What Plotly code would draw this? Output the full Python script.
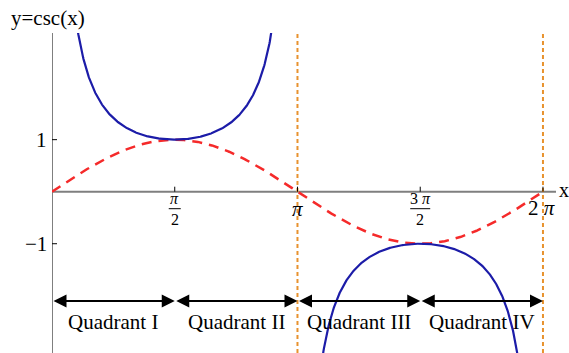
import numpy as np
import plotly.graph_objects as go

# Reference points and labels
tick_vals = [np.pi / 2, np.pi, 3 * np.pi / 2, 2 * np.pi]
y_tick_vals = [1, -1]
y_tick_text = ["1", "\u22121"]
quadrant_names = ["Quadrant I", "Quadrant II", "Quadrant III", "Quadrant IV"]
quadrant_bounds = [0, np.pi / 2, np.pi, 3 * np.pi / 2, 2 * np.pi]
asymptotes = [np.pi, 2 * np.pi]

X_MAX = 6.45
Y_MIN, Y_MAX = -3.1, 3.05
ARROW_Y = -2.1
LABEL_Y = -2.5

SERIF = "Liberation Serif"
BLUE = "#1c1ca8"
RED = "#f52a2a"
ORANGE = "#e8922e"
GRAY = "#7f7f7f"

fig = go.Figure()

# sine reference curve
xs = np.linspace(0, 2 * np.pi, 600)
fig.add_trace(go.Scatter(x=xs, y=np.sin(xs), mode="lines",
                         line=dict(color=RED, width=2.5, dash="10px,7px"),
                         hoverinfo="skip"))

# cosecant branches
for a, b in [(0, np.pi), (np.pi, 2 * np.pi)]:
    xb = np.linspace(a + 0.2, b - 0.2, 500)
    fig.add_trace(go.Scatter(x=xb, y=1 / np.sin(xb), mode="lines",
                             line=dict(color=BLUE, width=2.2),
                             hoverinfo="skip"))

shapes = []
# axes
shapes.append(dict(type="line", x0=0, x1=0, y0=Y_MIN, y1=Y_MAX,
                   xref="x", yref="y", line=dict(color=GRAY, width=2), layer="below"))
shapes.append(dict(type="line", x0=0, x1=X_MAX, y0=0, y1=0,
                   xref="x", yref="y", line=dict(color=GRAY, width=2), layer="below"))
# dotted asymptote guides
for xa in asymptotes:
    shapes.append(dict(type="line", x0=xa, x1=xa, y0=Y_MIN, y1=Y_MAX,
                       xref="x", yref="y",
                       line=dict(color=ORANGE, width=2, dash="4px,3px")))
# tick marks
for tv in tick_vals:
    shapes.append(dict(type="line", xref="x", yref="y", ysizemode="pixel",
                       yanchor=0, x0=tv, x1=tv, y0=0, y1=5,
                       line=dict(color="black", width=1)))
for yv in y_tick_vals:
    shapes.append(dict(type="line", xref="x", yref="y", xsizemode="pixel",
                       xanchor=0, x0=0, x1=5, y0=yv, y1=yv,
                       line=dict(color="black", width=1)))

annotations = []
font_tick = dict(family=SERIF, size=21, color="black")
font_frac = dict(family=SERIF, size=16, color="black")

# x tick labels: stacked fractions with a bar between numerator and denominator
def frac_label(xv, num, half):
    annotations.append(dict(x=xv, y=0, xref="x", yref="y", text=num,
                            showarrow=False, font=font_frac, borderpad=0,
                            yanchor="bottom", yshift=-16))
    annotations.append(dict(x=xv, y=0, xref="x", yref="y", text="2",
                            showarrow=False, font=font_frac, borderpad=0,
                            yanchor="top", yshift=-18))
    shapes.append(dict(type="line", xref="x", yref="y", xsizemode="pixel",
                       ysizemode="pixel", xanchor=xv, yanchor=0,
                       x0=-half, x1=half, y0=-17, y1=-17,
                       line=dict(color="black", width=1)))

frac_label(tick_vals[0], "<i>\u03c0</i>", 6)
frac_label(tick_vals[2], "3 <i>\u03c0</i>", 10)
annotations.append(dict(x=tick_vals[1], y=0, xref="x", yref="y",
                        text="<i>\u03c0</i>", showarrow=False,
                        font=font_tick, yshift=-17))
annotations.append(dict(x=tick_vals[3], y=0, xref="x", yref="y",
                        text="2 <i>\u03c0</i>", showarrow=False,
                        font=font_tick, yshift=-16, xshift=-1))

# y tick labels
for yv, yt in zip(y_tick_vals, y_tick_text):
    annotations.append(dict(x=0, y=yv, xref="x", yref="y", text=yt,
                            showarrow=False, font=font_tick,
                            xanchor="right", xshift=-3))

# axis titles
annotations.append(dict(x=0, y=Y_MAX, xref="x", yref="y", text="y=csc(x)",
                        showarrow=False, xanchor="left", yanchor="middle",
                        xshift=-43, yshift=15,
                        font=dict(family=SERIF, size=21, color="black")))
annotations.append(dict(x=X_MAX, y=0, xref="x", yref="y", text="x",
                        showarrow=False, xanchor="left", xshift=1, yshift=2,
                        font=dict(family=SERIF, size=20, color="black")))

# quadrant arrows and names
for i, name in enumerate(quadrant_names):
    a, b = quadrant_bounds[i], quadrant_bounds[i + 1]
    annotations.append(dict(x=b, y=ARROW_Y, ax=a, ay=ARROW_Y,
                            xref="x", yref="y", axref="x", ayref="y",
                            text="", showarrow=True, arrowhead=2,
                            arrowside="end+start", arrowsize=1.3,
                            arrowwidth=2, arrowcolor="black", standoff=0,
                            startstandoff=0))
    annotations.append(dict(x=(a + b) / 2, y=LABEL_Y, xref="x", yref="y",
                            text=name, showarrow=False,
                            font=dict(family=SERIF, size=21, color="black")))

fig.update_layout(
    width=569, height=353,
    margin=dict(l=52, r=13, t=33, b=0),
    paper_bgcolor="white", plot_bgcolor="white",
    showlegend=False,
    xaxis=dict(range=[0, X_MAX], visible=False, fixedrange=True),
    yaxis=dict(range=[Y_MIN, Y_MAX], visible=False, fixedrange=True),
    shapes=shapes,
    annotations=annotations,
)

fig.write_html("out.html")
